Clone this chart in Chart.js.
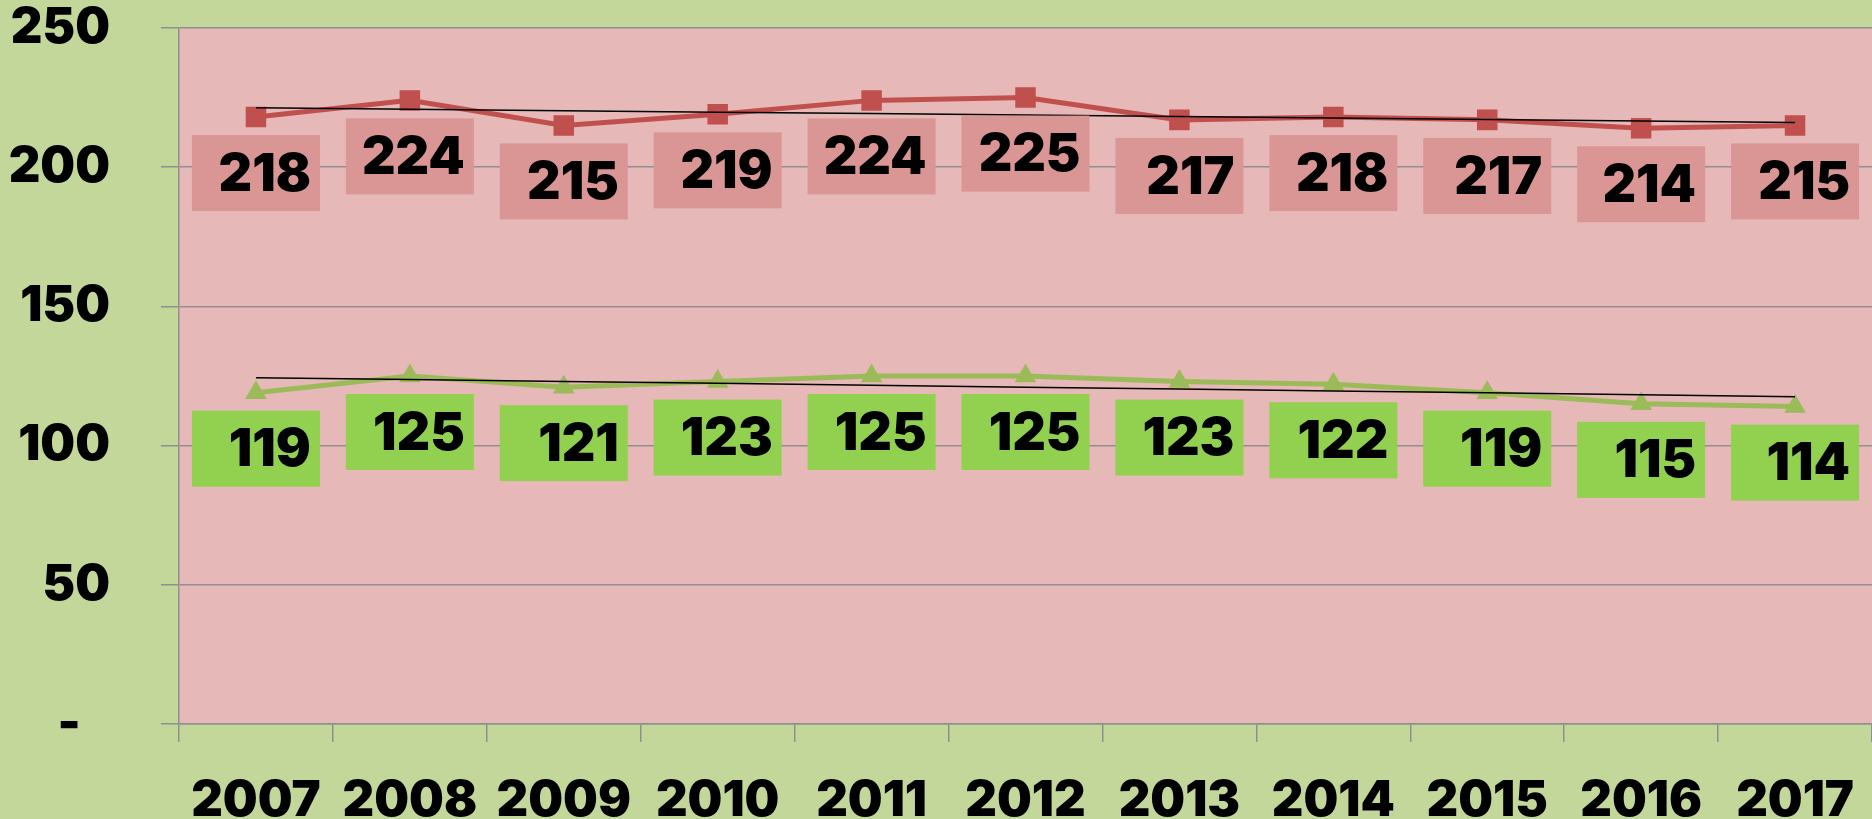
<!DOCTYPE html>
<html>
<head>
<meta charset="utf-8">
<script src="https://cdn.jsdelivr.net/npm/chart.js@4.4.1/dist/chart.umd.min.js"></script>
<style>
  html, body { margin: 0; padding: 0; background: #c4d79b; overflow: hidden; }
  #lineChart { display: block; position: absolute; left: 0; top: 0; }
</style>
</head>
<body>
<canvas id="lineChart" width="1872" height="819"></canvas>
<script>
// values
const years = ['2007', '2008', '2009', '2010', '2011', '2012', '2013', '2014', '2015', '2016', '2017'];
const redValues = [218, 224, 215, 219, 224, 225, 217, 218, 217, 214, 215];
const greenValues = [119, 125, 121, 123, 125, 125, 123, 122, 119, 115, 114];
const yTickValues = [0, 50, 100, 150, 200, 250];
const yTickLabels = ['-   ', '50', '100', '150', '200', '250'];

const bigFont = { family: 'Inter', size: 49, weight: 900 };
const gridGrey = '#8f8f8f';

// linear trendline (least squares), like the spreadsheet one
function trendOf(values) {
    const n = values.length;
    const mx = (n - 1) / 2;
    const my = values.reduce((a, b) => a + b, 0) / n;
    let sxy = 0, sxx = 0;
    values.forEach((v, i) => {
        sxy += (i - mx) * (v - my);
        sxx += (i - mx) * (i - mx);
    });
    const k = sxy / sxx;
    return values.map((v, i) => my + k * (i - mx));
}

const panelColours = {
    id: 'panelColours',
    beforeDraw(chart) {
        const { ctx, chartArea: a } = chart;
        ctx.save();
        ctx.fillStyle = '#c4d79b';
        ctx.fillRect(0, 0, chart.width, chart.height);
        ctx.fillStyle = '#e6b8b7';
        ctx.fillRect(a.left, a.top, a.right - a.left, a.bottom - a.top);
        ctx.restore();
    }
};

// boxed value labels under each point
const valueBoxes = {
    id: 'valueBoxes',
    afterDatasetsDraw(chart) {
        const ctx = chart.ctx;
        ctx.save();
        chart.data.datasets.forEach((ds, di) => {
            if (!ds.boxColour) return;
            chart.getDatasetMeta(di).data.forEach((pt, i) => {
                const cx = pt.x, cy = pt.y + 56;
                ctx.fillStyle = ds.boxColour;
                ctx.fillRect(cx - 64, cy - 38, 128, 76);
                ctx.fillStyle = '#000';
                ctx.font = '900 52px Inter';
                ctx.textAlign = 'right';
                ctx.textBaseline = 'middle';
                ctx.fillText(String(ds.data[i]), cx + 55, cy + 2);
            });
        });
        ctx.restore();
    }
};

const ctx = document.getElementById('lineChart').getContext('2d');
new Chart(ctx, {
    type: 'line',
    data: {
        labels: years,
        datasets: [{
            data: trendOf(redValues),
            borderColor: '#000',
            borderWidth: 1.5,
            pointRadius: 0,
            order: 0
        }, {
            data: trendOf(greenValues),
            borderColor: '#000',
            borderWidth: 1.5,
            pointRadius: 0,
            order: 0
        }, {
            data: redValues,
            borderColor: '#c0504d',
            backgroundColor: '#c0504d',
            borderWidth: 5,
            pointStyle: 'rect',
            pointRadius: 14.5,
            pointBorderWidth: 0,
            boxColour: '#da9694',
            order: 1
        }, {
            data: greenValues,
            borderColor: '#9bbb59',
            backgroundColor: '#9bbb59',
            borderWidth: 5,
            pointStyle: 'triangle',
            pointRadius: 12.5,
            pointBorderWidth: 0,
            boxColour: '#92d050',
            order: 1
        }]
    },
    options: {
        responsive: false,
        animation: false,
        devicePixelRatio: 1,
        layout: { autoPadding: false, padding: { top: 28, right: 0, left: 0, bottom: 0 } },
        plugins: {
            legend: { display: false },
            tooltip: { enabled: false }
        },
        elements: { line: { tension: 0 } },
        scales: {
            x: {
                offset: true,
                grid: {
                    offset: true,
                    drawOnChartArea: false,
                    color: gridGrey,
                    lineWidth: 1.5,
                    tickLength: 18
                },
                border: { display: true, color: gridGrey, width: 1.5 },
                ticks: { color: '#000', font: bigFont, padding: 30, maxRotation: 0 },
                afterFit(scale) {
                    scale.height = 95;
                    scale.paddingLeft = 0;
                    scale.paddingRight = 0;
                }
            },
            y: {
                min: 0,
                max: 250,
                afterBuildTicks(scale) {
                    scale.ticks = yTickValues.map(v => ({ value: v }));
                },
                grid: { color: gridGrey, lineWidth: 1.5, tickLength: 18 },
                border: { display: true, color: gridGrey, width: 1.5 },
                ticks: {
                    color: '#000',
                    font: bigFont,
                    padding: 51,
                    callback: value => yTickLabels[yTickValues.indexOf(value)]
                },
                afterFit(scale) {
                    scale.width = 179;
                    scale.paddingTop = 0;
                    scale.paddingBottom = 0;
                }
            }
        }
    },
    plugins: [panelColours, valueBoxes]
});
</script>
</body>
</html>
